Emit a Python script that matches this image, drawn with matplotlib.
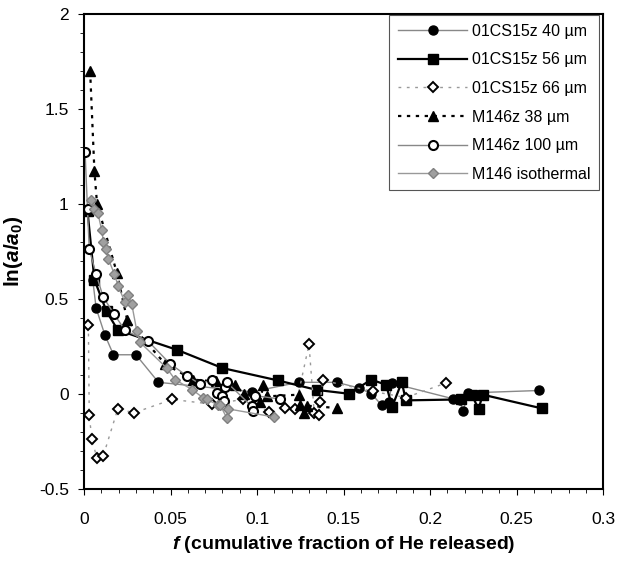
import matplotlib
matplotlib.use("Agg")
import matplotlib.pyplot as plt
from matplotlib.ticker import MultipleLocator, FuncFormatter

plt.rcParams["font.family"] = ["Liberation Sans", "DejaVu Sans"]
plt.rcParams["mathtext.fontset"] = "custom"
plt.rcParams["mathtext.rm"] = "Liberation Sans:bold"
plt.rcParams["mathtext.it"] = "Liberation Sans:bold:italic"
plt.rcParams["axes.unicode_minus"] = False

# 01CS15z 40 um
f_40 = [0.005, 0.007, 0.012, 0.017, 0.030, 0.043, 0.097, 0.124, 0.146, 0.159,
        0.166, 0.172, 0.176, 0.178, 0.213, 0.217, 0.219, 0.222, 0.263]
v_40 = [0.60, 0.45, 0.31, 0.205, 0.205, 0.06, 0.01, 0.06, 0.06, 0.03,
        0.0, -0.06, -0.045, 0.055, -0.026, -0.035, -0.093, 0.004, 0.017]

# 01CS15z 56 um
f_56 = [0.002, 0.006, 0.013, 0.0195, 0.054, 0.080, 0.112, 0.1345, 0.153, 0.166,
        0.1746, 0.178, 0.1836, 0.186, 0.218, 0.224, 0.228, 0.2304, 0.2645]
v_56 = [0.96, 0.60, 0.433, 0.335, 0.23, 0.135, 0.07, 0.02, 0.0, 0.074,
        0.047, -0.07, 0.061, -0.035, -0.03, -0.005, -0.08, -0.005, -0.077]

# 01CS15z 66 um
f_66 = [0.0025, 0.003, 0.0045, 0.0075, 0.011, 0.0195, 0.029, 0.051, 0.074, 0.092,
        0.107, 0.116, 0.122, 0.130, 0.133, 0.1355, 0.1364, 0.138, 0.167, 0.186, 0.209]
v_66 = [0.36, -0.11, -0.24, -0.34, -0.33, -0.08, -0.10, -0.03, -0.055, -0.03,
        -0.095, -0.075, -0.08, 0.26, -0.10, -0.11, -0.046, 0.07, 0.012, -0.02, 0.056]

# M146z 38 um
f_38 = [0.0035, 0.006, 0.0075, 0.019, 0.025, 0.047, 0.063, 0.076, 0.087, 0.0925,
        0.1017, 0.1036, 0.1056, 0.124, 0.125, 0.127, 0.129, 0.146]
v_38 = [1.70, 1.17, 1.00, 0.635, 0.386, 0.155, 0.074, 0.065, 0.047, 0.0,
        -0.046, 0.047, -0.014, -0.005, -0.058, -0.10, -0.063, -0.075]

# M146z 100 um
f_100 = [0.0006, 0.002, 0.003, 0.007, 0.011, 0.0173, 0.0237, 0.0372, 0.0497, 0.0593,
         0.067, 0.0738, 0.0767, 0.080, 0.081, 0.0815, 0.0824, 0.097, 0.0979, 0.0988, 0.1133]
v_100 = [1.27, 0.97, 0.76, 0.63, 0.51, 0.42, 0.333, 0.275, 0.158, 0.095,
         0.051, 0.074, 0.004, -0.014, -0.04, 0.035, 0.061, -0.067, -0.093, -0.01, -0.028]

# M146 isothermal
f_iso = [0.004, 0.006, 0.008, 0.0102, 0.0112, 0.0127, 0.014, 0.0175, 0.0198, 0.0237,
         0.0256, 0.0276, 0.0305, 0.0324, 0.0478, 0.0526, 0.0626, 0.069, 0.0709, 0.0776,
         0.0786, 0.0825, 0.0834, 0.110]
v_iso = [1.02, 0.97, 0.95, 0.86, 0.80, 0.76, 0.71, 0.63, 0.565, 0.48,
         0.52, 0.47, 0.33, 0.27, 0.135, 0.074, 0.021, -0.023, -0.03, -0.06,
         -0.058, -0.128, -0.08, -0.123]

fig = plt.figure(figsize=(6.18, 5.67), dpi=100)
ax = fig.add_axes([0.136, 0.138, 0.840, 0.838])

ax.plot(f_40, v_40, color="#888888", lw=1.0, marker="o", ms=6.5,
        mfc="black", mec="black", label="01CS15z 40 µm")
ax.plot(f_56, v_56, color="black", lw=1.6, marker="s", ms=6.5,
        mfc="black", mec="black", label="01CS15z 56 µm")
ax.plot(f_66, v_66, color="#999999", lw=1.0, ls=(0, (2, 4)), marker="D", ms=5.5,
        mfc="white", mec="black", mew=1.4, label="01CS15z 66 µm")
ax.plot(f_38, v_38, color="black", lw=1.6, ls=(0, (1.5, 2.5)), marker="^", ms=7.5,
        mfc="black", mec="black", label="M146z 38 µm")
ax.plot(f_100, v_100, color="#888888", lw=1.0, marker="o", ms=6.5,
        mfc="white", mec="black", mew=1.5, label="M146z 100 µm")
ax.plot(f_iso, v_iso, color="#999999", lw=1.0, marker="D", ms=5.5,
        mfc="#a0a0a0", mec="#808080", label="M146 isothermal")

ax.set_xlim(0, 0.3)
ax.set_ylim(-0.5, 2)
ax.xaxis.set_major_locator(MultipleLocator(0.05))
ax.xaxis.set_minor_locator(MultipleLocator(0.01))
ax.yaxis.set_major_locator(MultipleLocator(0.5))
ax.yaxis.set_minor_locator(MultipleLocator(0.1))
fmt = FuncFormatter(lambda x, pos: f"{round(x, 3):g}")
ax.xaxis.set_major_formatter(fmt)
ax.yaxis.set_major_formatter(fmt)
ax.tick_params(which="both", direction="out", top=False, right=False, labelsize=12.5)
ax.tick_params(which="major", length=4)
ax.tick_params(which="minor", length=3)
ax.tick_params(axis="x", pad=13)
ax.tick_params(axis="y", pad=7)
for s in ax.spines.values():
    s.set_linewidth(1.5)

ax.set_xlabel(r"$f$ (cumulative fraction of He released)", fontsize=14,
              fontweight="bold", labelpad=5)
ax.set_ylabel(r"ln($a$/$a_0$)", fontsize=15, fontweight="bold", labelpad=10)

leg = ax.legend(loc="upper right", bbox_to_anchor=(0.992, 0.997), borderaxespad=0,
                fontsize=11.5, labelspacing=0.85, handlelength=4.3, handletextpad=0.3,
                fancybox=False, framealpha=1, edgecolor="#555555", borderpad=0.55)
leg.get_frame().set_linewidth(0.8)

fig.savefig("out.png", dpi=100)
